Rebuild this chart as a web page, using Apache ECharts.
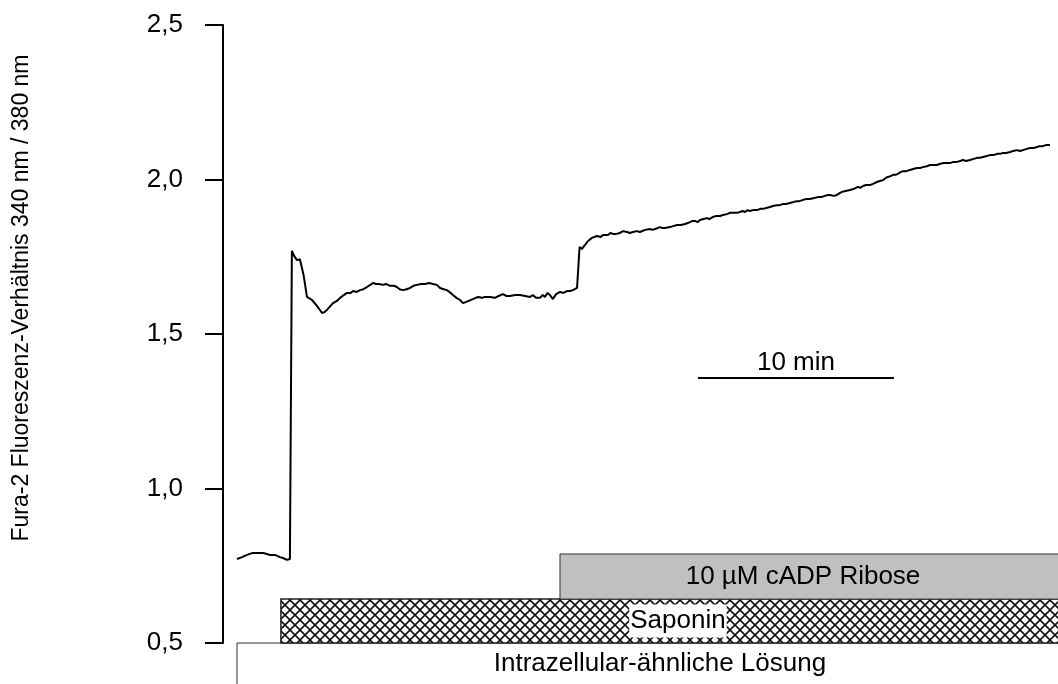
<!DOCTYPE html>
<html>
<head>
<meta charset="utf-8">
<script src="https://cdn.jsdelivr.net/npm/echarts@6/dist/echarts.min.js"></script>
<style>
  html, body { margin: 0; padding: 0; background: #fff; }
  #chart { width: 1058px; height: 684px; }
</style>
</head>
<body>
<div id="chart"></div>
<script>
// Fura-2 ratio trace: time in minutes, ratio 340 nm / 380 nm
const timeMin = [
  0, 0.26, 0.51, 0.77, 1.02, 1.33, 1.53, 1.68, 1.94, 2.19, 2.35, 2.55, 2.70,
  2.80, 2.93, 3.06, 3.21, 3.27, 3.40, 3.57, 3.83, 4.08, 4.34, 4.46, 4.59, 4.90,
  5.10, 5.26, 5.45, 5.61, 5.80, 5.92, 6.10, 6.28, 6.45, 6.63, 6.80, 6.94, 7.10,
  7.25, 7.45, 7.60, 7.81, 8.00, 8.16, 8.30, 8.47, 8.65, 8.83, 9.00, 9.18, 9.40,
  9.59, 9.80, 10.00, 10.20, 10.36, 10.55, 10.71, 10.90, 11.02, 11.20, 11.38,
  11.53, 11.70, 11.79, 12.04, 12.30, 12.50, 12.65, 12.90, 13.16, 13.35, 13.57,
  13.75, 13.93, 14.20, 14.44, 14.70, 14.95, 15.10, 15.25, 15.46, 15.60, 15.71,
  15.85, 15.97, 16.12, 16.28, 16.48, 16.65, 16.84, 17.00, 17.14, 17.35, 17.45,
  17.48, 17.60, 17.68, 17.76, 17.91, 18.11, 18.37, 18.55, 18.67, 18.93, 19.05,
  19.18, 19.35, 19.54, 19.70, 19.90, 20.05, 20.20, 20.40, 20.56, 20.82, 21.07,
  21.20, 21.33, 21.58, 21.70, 21.84, 22.09, 22.25, 22.45, 22.65, 22.86, 23.00,
  23.11, 23.25, 23.37, 23.50, 23.62, 23.80, 23.98, 24.10, 24.29, 24.45, 24.64,
  24.80, 25.00, 25.15, 25.31, 25.50, 25.66, 25.80, 25.92, 26.05, 26.17, 26.35,
  26.53, 26.70, 26.84, 27.00, 27.19, 27.35, 27.55, 27.70, 27.86, 28.00, 28.21,
  28.40, 28.57, 28.70, 28.88, 29.05, 29.23, 29.45, 29.64, 29.80, 30.00, 30.15,
  30.26, 30.45, 30.61, 30.75, 30.87, 31.05, 31.28, 31.45, 31.68, 31.80, 31.94,
  32.10, 32.30, 32.45, 32.65, 32.80, 32.96, 33.10, 33.21, 33.35, 33.47, 33.60,
  33.72, 33.85, 33.98, 34.15, 34.34, 34.50, 34.69, 34.85, 35.00, 35.20, 35.36,
  35.55, 35.71, 35.85, 36.02, 36.20, 36.38, 36.55, 36.73, 36.90, 37.04, 37.20,
  37.40, 37.55, 37.76, 37.90, 38.06, 38.25, 38.42, 38.60, 38.78, 38.95, 39.08,
  39.25, 39.44, 39.60, 39.80, 39.95, 40.10, 40.30, 40.46, 40.65, 40.82, 40.95,
  41.12, 41.30, 41.48
];
const ratio = [
  0.772, 0.778, 0.785, 0.791, 0.791, 0.791, 0.788, 0.785, 0.785, 0.778, 0.775, 0.769, 0.772,
  1.769, 1.751, 1.739, 1.742, 1.739, 1.690, 1.620, 1.610, 1.591, 1.568, 1.571, 1.578, 1.600,
  1.607, 1.617, 1.626, 1.633, 1.633, 1.639, 1.636, 1.642, 1.645, 1.652, 1.659, 1.665, 1.662,
  1.662, 1.659, 1.662, 1.656, 1.656, 1.652, 1.645, 1.642, 1.645, 1.649, 1.656, 1.659, 1.662,
  1.662, 1.665, 1.662, 1.659, 1.649, 1.645, 1.642, 1.633, 1.626, 1.617, 1.610,
  1.600, 1.604, 1.607, 1.613, 1.620, 1.617, 1.620, 1.620, 1.617, 1.623, 1.629,
  1.623, 1.623, 1.626, 1.626, 1.623, 1.620, 1.626, 1.617, 1.617, 1.626, 1.620,
  1.633, 1.626, 1.613, 1.629, 1.636, 1.633, 1.639, 1.639, 1.642, 1.649, 1.652,
  1.782, 1.775, 1.782, 1.788, 1.801, 1.811, 1.817, 1.814, 1.820, 1.820, 1.827,
  1.824, 1.824, 1.827, 1.833, 1.830, 1.827, 1.830, 1.833, 1.830, 1.837, 1.840,
  1.837, 1.840, 1.846, 1.843, 1.843, 1.846, 1.849, 1.853, 1.853, 1.856, 1.859,
  1.862, 1.866, 1.866, 1.862, 1.869, 1.872, 1.875, 1.872, 1.879, 1.882, 1.882,
  1.885, 1.888, 1.892, 1.892, 1.892, 1.895, 1.898, 1.895, 1.901, 1.898, 1.901,
  1.901, 1.905, 1.905, 1.908, 1.911, 1.914, 1.917, 1.917, 1.921, 1.921, 1.924,
  1.927, 1.930, 1.930, 1.934, 1.937, 1.937, 1.940, 1.943, 1.943, 1.947, 1.950,
  1.950, 1.947, 1.950, 1.956, 1.960, 1.963, 1.966, 1.969, 1.976, 1.973, 1.979,
  1.982, 1.982, 1.986, 1.992, 1.995, 1.998, 2.005, 2.008, 2.011, 2.015, 2.015,
  2.018, 2.024, 2.027, 2.027, 2.031, 2.034, 2.037, 2.037, 2.040, 2.043, 2.047,
  2.047, 2.047, 2.050, 2.053, 2.053, 2.053, 2.057, 2.057, 2.060, 2.063, 2.060,
  2.063, 2.066, 2.070, 2.070, 2.073, 2.076, 2.079, 2.079, 2.083, 2.083, 2.086,
  2.086, 2.089, 2.092, 2.095, 2.092, 2.095, 2.099, 2.102, 2.102, 2.105, 2.108,
  2.108, 2.112, 2.112
];

// Bath solutions applied (bars below the trace), start time in minutes
const solutionNames = ['Intrazellular-ähnliche Lösung', 'Saponin', '10 µM cADP Ribose'];
const solutionStart = [0, 2.24, 16.48];
const solutionEnd = [44, 44, 44];
const solutionLow = [0.30, 0.5, 0.642];
const solutionHigh = [0.5, 0.642, 0.788];

// Time scale bar
const scaleBarStart = 23.52;
const scaleBarMinutes = 10;
const scaleBarLevel = 1.358;
const scaleBarText = '10 min';

const yTickLabels = ['0,5', '1,0', '1,5', '2,0', '2,5'];
const yAxisTitle = 'Fura-2 Fluoreszenz-Verhältnis 340 nm / 380 nm';

const FONT = '"Liberation Sans", Arial, Helvetica, sans-serif';

// Cross-hatch fill for the saponin bar
function makeHatch() {
  const p = 10;
  const c = document.createElement('canvas');
  c.width = p; c.height = p;
  const g = c.getContext('2d');
  g.fillStyle = '#fff';
  g.fillRect(0, 0, p, p);
  g.strokeStyle = '#111';
  g.lineWidth = 1.6;
  g.beginPath();
  g.moveTo(-1, -1); g.lineTo(p + 1, p + 1);
  g.moveTo(p + 1, -1); g.lineTo(-1, p + 1);
  g.stroke();
  return c;
}
const hatch = makeHatch();

const solutionStyle = [
  { fill: '#ffffff', stroke: '#333', lineWidth: 1, textAt: 21.58, bg: null },
  { fill: { image: hatch, repeat: 'repeat' }, stroke: '#222', lineWidth: 1.5, textAt: 22.5, bg: '#ffffff' },
  { fill: '#c0c0c0', stroke: '#333', lineWidth: 1, textAt: 28.88, bg: null }
];

const trace = timeMin.map((t, i) => [t, ratio[i]]);
const solutions = solutionNames.map((n, i) => [solutionStart[i], solutionEnd[i], solutionLow[i], solutionHigh[i], i]);

const chart = echarts.init(document.getElementById('chart'), null, { renderer: 'canvas' });

chart.setOption({
  animation: false,
  backgroundColor: '#fff',
  grid: { left: 223, right: 0, top: 25, bottom: 41, containLabel: false },
  xAxis: {
    type: 'value', min: -0.714, max: 41.89, show: false
  },
  yAxis: {
    type: 'value', min: 0.5, max: 2.5, interval: 0.5,
    axisLine: { show: true, onZero: false, lineStyle: { color: '#000', width: 2 } },
    axisTick: { show: true, inside: false, length: 18, lineStyle: { color: '#000', width: 2 } },
    axisLabel: {
      margin: 40, color: '#000', fontSize: 26, fontFamily: FONT,
      formatter: v => yTickLabels[Math.round((v - 0.5) / 0.5)]
    },
    splitLine: { show: false }
  },
  graphic: [{
    type: 'text', x: 22, y: 298, rotation: Math.PI / 2,
    style: { text: yAxisTitle, font: '23px ' + FONT, fill: '#000', align: 'center', verticalAlign: 'middle' }
  }],
  series: [
    {
      type: 'custom',
      clip: false,
      z: 1,
      data: solutions,
      renderItem: (params, api) => {
        const idx = api.value(4);
        const st = solutionStyle[idx];
        const p0 = api.coord([api.value(0), api.value(3)]);
        const p1 = api.coord([api.value(1), api.value(2)]);
        const mid = api.coord([st.textAt, (api.value(2) + api.value(3)) / 2]);
        const textY = idx === 0 ? api.coord([0, 0.432])[1] : mid[1];
        const textStyle = {
          text: solutionNames[idx], x: mid[0], y: textY,
          align: 'center', verticalAlign: 'middle',
          font: '26px ' + FONT, fill: '#000'
        };
        if (st.bg) { textStyle.backgroundColor = st.bg; textStyle.padding = [4, 1, 3, 1]; }
        return {
          type: 'group',
          children: [
            { type: 'rect', shape: { x: p0[0], y: p0[1], width: p1[0] - p0[0], height: p1[1] - p0[1] },
              style: { fill: st.fill, stroke: st.stroke, lineWidth: st.lineWidth } },
            { type: 'text', style: textStyle }
          ]
        };
      }
    },
    {
      type: 'custom',
      clip: false,
      z: 2,
      data: [[scaleBarStart, scaleBarStart + scaleBarMinutes, scaleBarLevel]],
      renderItem: (params, api) => {
        const a = api.coord([api.value(0), api.value(2)]);
        const b = api.coord([api.value(1), api.value(2)]);
        return {
          type: 'group',
          children: [
            { type: 'line', shape: { x1: a[0], y1: a[1], x2: b[0], y2: b[1] },
              style: { stroke: '#000', lineWidth: 2 } },
            { type: 'text', style: { text: scaleBarText, x: (a[0] + b[0]) / 2, y: a[1] - 2,
              align: 'center', verticalAlign: 'bottom', font: '26px ' + FONT, fill: '#000' } }
          ]
        };
      }
    },
    {
      type: 'line',
      z: 3,
      data: trace,
      showSymbol: false,
      symbol: 'none',
      lineStyle: { color: '#000', width: 2 },
      clip: false
    }
  ]
});
</script>
</body>
</html>
